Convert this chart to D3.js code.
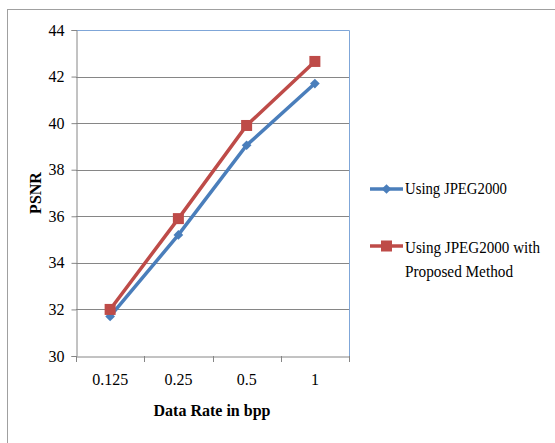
<!DOCTYPE html>
<html>
<head>
<meta charset="utf-8">
<script src="https://cdn.jsdelivr.net/npm/d3@7"></script>
<style>
body { margin: 0; background: #fff; }
svg text { font-family: 'Times New Roman', 'Liberation Serif', 'DejaVu Serif', serif; }
</style>
</head>
<body>
<div id="io"></div>
<script>
const categories = ['0.125', '0.25', '0.5', '1'];
const jpeg2000 = [31.7, 35.2, 39.05, 41.7];
const proposed = [32.0, 35.9, 39.9, 42.65];
const yTicks = [30, 32, 34, 36, 38, 40, 42, 44];
const seriesNames = ['Using JPEG2000', ['Using JPEG2000 with', 'Proposed Method']];

const W = 555, H = 443;
const svg = d3.select('#io').append('svg').attr('width', W).attr('height', H);

// chart area border (only left/top visible)
svg.append('rect').attr('x', 7.5).attr('y', 9.5).attr('width', 560).attr('height', 450)
  .attr('fill', 'none').attr('stroke', '#a0a0a0').attr('stroke-width', 1);

const pLeft = 76, pRight = 349, pTop = 30, pBottom = 356;

const xScale = d3.scaleBand().domain(categories).range([pLeft, pRight]);
const yScale = d3.scaleLinear().domain([30, 44]).range([pBottom, pTop]);

// gridlines
svg.append('g').selectAll('line').data(yTicks.filter(d => d > 30 && d < 44)).enter()
  .append('line')
  .attr('x1', pLeft).attr('x2', pRight)
  .attr('y1', d => Math.round(yScale(d)) + 0.5).attr('y2', d => Math.round(yScale(d)) + 0.5)
  .attr('stroke', '#868686').attr('stroke-width', 1);

// plot area top/right border (blue)
svg.append('path')
  .attr('d', `M${pLeft},${pTop + 0.5}H${pRight + 0.5}V${pBottom}`)
  .attr('fill', 'none').attr('stroke', '#7fa6d8').attr('stroke-width', 1);

// y axis
const yAxis = svg.append('g').attr('transform', `translate(${pLeft + 0.5},0)`)
  .call(d3.axisLeft(yScale).tickValues(yTicks).tickSize(5).tickPadding(7));
yAxis.attr('font-family', null);
yAxis.select('.domain').attr('stroke', '#868686');
yAxis.selectAll('.tick line').attr('stroke', '#868686');
yAxis.selectAll('.tick text').attr('font-size', 16).attr('fill', '#000');

// x axis
const xAxis = svg.append('g').attr('transform', `translate(0,${pBottom + 0.5})`)
  .call(d3.axisBottom(xScale).tickSize(0).tickPadding(17));
xAxis.attr('font-family', null);
xAxis.select('.domain').attr('stroke', '#868686');
xAxis.selectAll('.tick text').attr('font-size', 16).attr('fill', '#000');
// tick marks between categories
svg.append('g').selectAll('line')
  .data(categories.map(c => xScale(c)).concat([pRight])).enter()
  .append('line')
  .attr('x1', d => Math.round(d) + 0.5).attr('x2', d => Math.round(d) + 0.5)
  .attr('y1', pBottom).attr('y2', pBottom + 6)
  .attr('stroke', '#868686');

// axis titles
svg.append('text').attr('x', 212).attr('y', 416).attr('text-anchor', 'middle')
  .attr('font-size', 16).attr('font-weight', 'bold').text('Data Rate in bpp');
svg.append('text').attr('transform', 'translate(41,193) rotate(-90)').attr('text-anchor', 'middle')
  .attr('font-size', 16).attr('font-weight', 'bold').text('PSNR');

const blue = '#4a7ebb', red = '#be4b48';
const cx = d => xScale(d) + xScale.bandwidth() / 2;
const line = d3.line().x(d => cx(d.c)).y(d => yScale(d.v));

const s1 = categories.map((c, i) => ({ c: c, v: jpeg2000[i] }));
const s2 = categories.map((c, i) => ({ c: c, v: proposed[i] }));

svg.append('path').datum(s1).attr('d', line).attr('fill', 'none')
  .attr('stroke', blue).attr('stroke-width', 3.5);
svg.append('g').selectAll('path').data(s1).enter().append('path')
  .attr('d', d3.symbol().type(d3.symbolDiamond2).size(60))
  .attr('transform', d => `translate(${cx(d.c)},${yScale(d.v)})`)
  .attr('fill', blue);

svg.append('path').datum(s2).attr('d', line).attr('fill', 'none')
  .attr('stroke', red).attr('stroke-width', 3.5);
svg.append('g').selectAll('rect').data(s2).enter().append('rect')
  .attr('x', d => cx(d.c) - 5.5).attr('y', d => yScale(d.v) - 5.5)
  .attr('width', 11).attr('height', 11).attr('fill', red);

// legend
const lg = svg.append('g');
lg.append('line').attr('x1', 370).attr('x2', 403).attr('y1', 189).attr('y2', 189)
  .attr('stroke', blue).attr('stroke-width', 3.5);
lg.append('path').attr('d', d3.symbol().type(d3.symbolDiamond2).size(60))
  .attr('transform', 'translate(386.5,189)').attr('fill', blue);
lg.append('text').attr('x', 405).attr('y', 194).attr('font-size', 16)
  .attr('textLength', 102).attr('lengthAdjust', 'spacingAndGlyphs').text(seriesNames[0]);

lg.append('line').attr('x1', 370).attr('x2', 403).attr('y1', 246).attr('y2', 246)
  .attr('stroke', red).attr('stroke-width', 3.5);
lg.append('rect').attr('x', 381).attr('y', 240.5).attr('width', 11).attr('height', 11).attr('fill', red);
lg.append('text').attr('x', 405).attr('y', 253).attr('font-size', 16)
  .attr('textLength', 135).attr('lengthAdjust', 'spacingAndGlyphs').text(seriesNames[1][0]);
lg.append('text').attr('x', 405).attr('y', 277).attr('font-size', 16)
  .attr('textLength', 108).attr('lengthAdjust', 'spacingAndGlyphs').text(seriesNames[1][1]);
</script>
</body>
</html>
